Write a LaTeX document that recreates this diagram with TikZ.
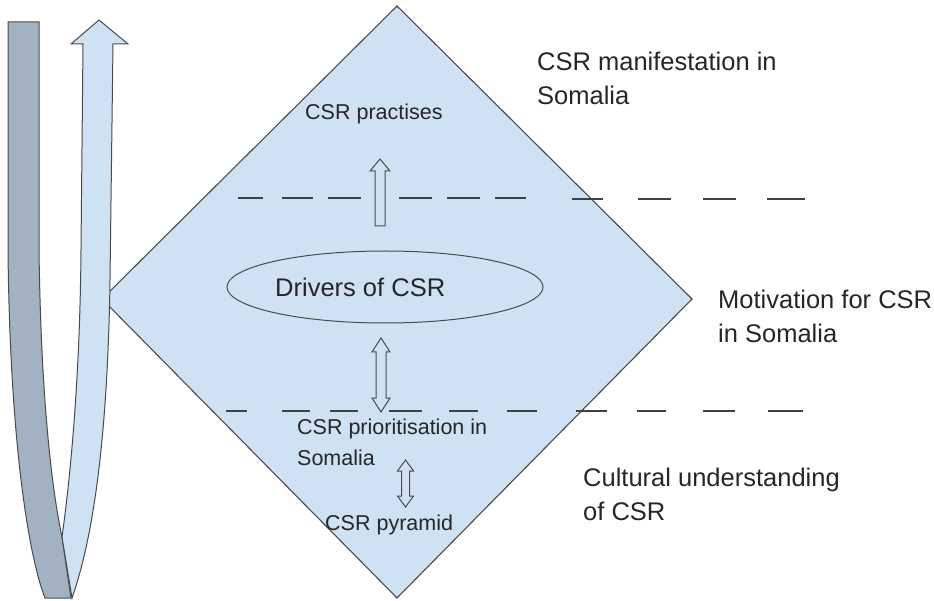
\documentclass[tikz,border=0pt]{standalone}
\usepackage{fontspec}
\setmainfont{Liberation Sans}
\usetikzlibrary{shapes.geometric}
\definecolor{lightblue}{HTML}{CFE2F3}
\definecolor{darkband}{HTML}{A3B2C2}
\definecolor{edge}{HTML}{4A4A4A}
\tikzset{
  big/.style={font=\fontsize{25.5}{31}\selectfont, anchor=base west, inner sep=0pt, text=black!85},
  small/.style={font=\fontsize{21.5}{26}\selectfont, anchor=base west, inner sep=0pt, text=black!85},
  outline/.style={draw=edge, line width=1.1pt},
  blockarrow/.style={draw=edge, line width=1pt, fill=lightblue, line join=miter},
  sepline/.style={draw=black!75, line width=1.1pt},
}
\begin{document}
\begin{tikzpicture}[x=1pt,y=-1pt]
\useasboundingbox (0,0) rectangle (934,601);
% diamond
\coordinate (dt) at (397,6);
\coordinate (dr) at (692,299);
\coordinate (db) at (397,598);
\coordinate (dl) at (102,299);
\draw[outline, fill=lightblue] (dt) -- (dr) -- (db) -- (dl) -- cycle;
% U-shaped ribbon arrow
\draw[outline, fill=darkband, line width=1pt] (8,22) -- (39,22) -- (39,250)
  .. controls (41,400) and (52,490) .. (62,537) -- (71,598) -- (45,598)
  .. controls (30,560) and (10,450) .. (8,250) -- cycle;
\draw[outline, fill=lightblue, line width=1pt] (113,44) -- (110,280)
  .. controls (108,420) and (96,530) .. (72,598) -- (62,537)
  .. controls (70,480) and (80,380) .. (81,250) -- (83,44) -- (71,44) -- (99,20) -- (128,44) -- cycle;
% ellipse
\node[draw=edge, line width=1pt, ellipse, minimum width=316pt, minimum height=72pt, inner sep=0pt] (drv) at (385,287) {};
\node[big] (drvtext) at (275,297) {Drivers of CSR};
% dashed separators (upper)
\draw[sepline] (238,198) -- (263,198) (282,198) -- (313,198) (328,198) -- (361,198)
  (399,198) -- (432,198) (447,198) -- (480,198) (495,198) -- (526,198)
  (572,199) -- (603,199) (638,199) -- (671,199) (703,199) -- (736,199) (767,199) -- (805,199);
% dashed separators (lower)
\draw[sepline] (226,411) -- (247,411) (282,411) -- (310,411) (330,411) -- (358,411)
  (389,411) -- (422,411) (449,411) -- (478,411) (507,411) -- (537,411)
  (576,411) -- (607,411) (637,411) -- (666,411) (703,411) -- (735,411) (768,411) -- (803,411);
% block arrows
\draw[blockarrow] (375,226) -- (385,226) -- (385,171) -- (390,171) -- (380,159) -- (370,171) -- (375,171) -- cycle;
\draw[blockarrow] (381,338) -- (390,352) -- (386,352) -- (386,398) -- (390,398) -- (381,412) -- (372,398) -- (376,398) -- (376,352) -- (372,352) -- cycle;
\draw[blockarrow] (405.5,460) -- (413.5,471) -- (409.5,471) -- (409.5,496) -- (413.5,496) -- (405.5,507) -- (397.5,496) -- (401.5,496) -- (401.5,471) -- (397.5,471) -- cycle;
% texts
\node[small] (prac) at (305,120) {CSR practises};
\node[big] (man1) at (537,71) {CSR manifestation in};
\node[big] (man2) at (537,105) {Somalia};
\node[big] (mot1) at (718,309) {Motivation for CSR};
\node[big] (mot2) at (718,343) {in Somalia};
\node[big] (cul1) at (583,486) {Cultural understanding};
\node[big] (cul2) at (583,520) {of CSR};
\node[small] (pri1) at (297,434) {CSR prioritisation in};
\node[small] (pri2) at (297,465) {Somalia};
\node[small] (pyr) at (325,530) {CSR pyramid};
\end{tikzpicture}
\end{document}
